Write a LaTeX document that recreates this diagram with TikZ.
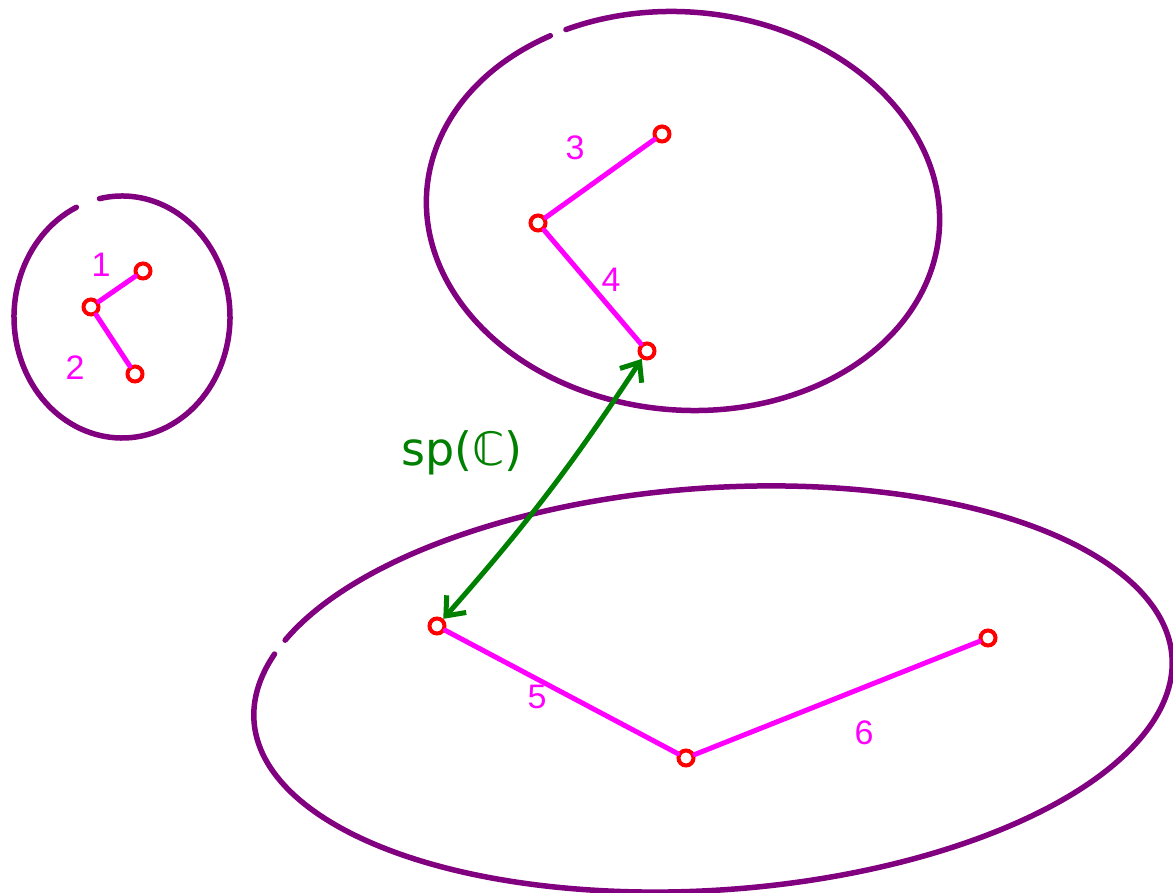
\documentclass[tikz,border=0pt]{standalone}
\usepackage{fontspec}
\setmainfont{Liberation Sans}
\newfontfamily\dejavu{DejaVu Sans}
\usetikzlibrary{arrows.meta}
\definecolor{blobpurple}{RGB}{128,0,128}
\definecolor{edgepink}{RGB}{255,0,255}
\definecolor{vertred}{RGB}{255,0,0}
\definecolor{arrowgreen}{RGB}{0,128,0}
\tikzset{
  blob/.style={draw=blobpurple,line width=5.5pt,line cap=round},
  vert/.style={circle,draw=vertred,line width=4pt,minimum size=15pt,inner sep=0pt},
  edge/.style={draw=edgepink,line width=5pt,line cap=round},
  elabel/.style={text=edgepink,font=\fontsize{34}{36}\selectfont},
  sparrow/.style={draw=arrowgreen,line width=5pt,line cap=round,{Straight Barb[length=16pt,width=26pt,line width=5pt]}-{Straight Barb[length=16pt,width=26pt,line width=5pt]}},
}
\begin{document}
\begin{tikzpicture}[x=1pt,y=1pt]
\useasboundingbox (0,0) rectangle (1173,893);
% blobs
\draw[blob] (122,576) ++(115:108 and 121) arc[start angle=115,end angle=462,x radius=108,y radius=121];
\draw[blob,rotate around={-5:(683,682)}] (683,682) ++(125:257 and 199) arc[start angle=125,end angle=481,x radius=257,y radius=199];
\draw[blob,rotate around={4:(713,204)}] (713,204) ++(161:460 and 201) arc[start angle=161,end angle=517,x radius=460,y radius=201];
% vertices
\node[vert] (A) at (91,586) {};
\node[vert] (B) at (143,622) {};
\node[vert] (C) at (135,519) {};
\node[vert] (D) at (538,670) {};
\node[vert] (E) at (662,759) {};
\node[vert] (F) at (647,542) {};
\node[vert] (G) at (437,267) {};
\node[vert] (H) at (686,135) {};
\node[vert] (I) at (988,255) {};
% edges
\draw[edge] (A) -- (B);
\draw[edge] (A) -- (C);
\draw[edge] (D) -- (E);
\draw[edge] (D) -- (F);
\draw[edge] (G) -- (H);
\draw[edge] (H) -- (I);
% labels
\node[elabel] (l1) at (101,628) {1};
\node[elabel] (l2) at (75,525) {2};
\node[elabel] (l3) at (575,745) {3};
\node[elabel] (l4) at (611,613) {4};
\node[elabel] (l5) at (537,196) {5};
\node[elabel] (l6) at (864,160) {6};
% green arrow
\draw[sparrow] (F) to[bend left=4] (G);
\node[text=arrowgreen,font=\dejavu\fontsize{46}{48}\selectfont,inner sep=0pt] (sp) at (462,440) {sp(ℂ)};
\end{tikzpicture}
\end{document}
